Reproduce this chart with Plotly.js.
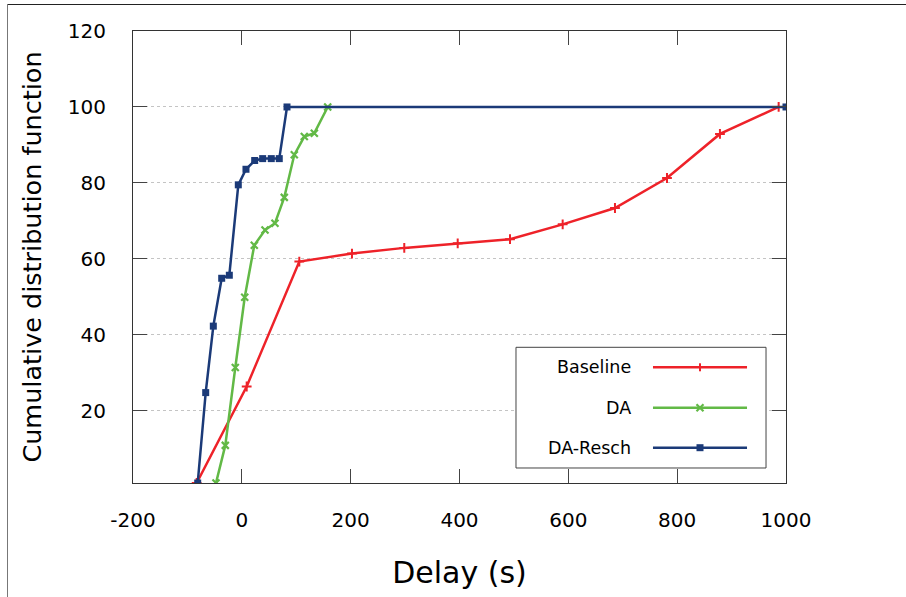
<!DOCTYPE html>
<html>
<head>
<meta charset="utf-8">
<script src="https://cdn.plot.ly/plotly-3.0.1.min.js"></script>
<style>
  html, body { margin: 0; padding: 0; background: #fff; }
  #wrap { position: relative; width: 906px; height: 597px; overflow: hidden; }
  #chart { position: absolute; left: 0; top: 0; width: 906px; height: 597px; }
  #frameTop { position: absolute; left: 7px; top: 4px; width: 899px; height: 1px; background: #222; }
  #frameLeft { position: absolute; left: 7px; top: 4px; width: 1px; height: 593px; background: #777; }
</style>
</head>
<body>
<div id="wrap">
  <div id="chart"></div>
  <div id="frameTop"></div>
  <div id="frameLeft"></div>
</div>
<script>
// ---- Data ----
const baselineX = [-83, 8.9, 105.6, 202.4, 298.5, 396.7, 492.8, 589.6, 685.7, 781.3, 878.6, 986.5];
const baselineY = [1, 26.4, 59.3, 61.4, 62.9, 64.1, 65.2, 69.1, 73.4, 81.3, 92.9, 100];

const daX = [-47.5, -30.4, -12, 5.3, 22.9, 42.6, 60.9, 78, 96.4, 114.8, 133.2, 157.8];
const daY = [1, 10.9, 31.4, 49.9, 63.6, 67.6, 69.4, 76.2, 87.4, 92.2, 93.1, 100];

const reschX = [-81.1, -66.4, -52.4, -37, -23, -6.5, 7.6, 23.6, 38.3, 54.1, 68.8, 83, 1000];
const reschY = [1, 24.8, 42.3, 54.9, 55.7, 79.5, 83.6, 85.9, 86.4, 86.4, 86.4, 100, 100];

const seriesNames = ["Baseline", "DA", "DA-Resch"];
const xTickVals = [-200, 0, 200, 400, 600, 800, 1000];
const yTickVals = [20, 40, 60, 80, 100, 120];

// ---- Styles ----
const RED = "#ee2229", GREEN = "#62b946", BLUE = "#1b3a78";
const FONT = "DejaVu Sans, sans-serif";

const traces = [
  { x: baselineX, y: baselineY, name: seriesNames[0], mode: "lines+markers",
    line: { color: RED, width: 2.5 },
    marker: { symbol: "cross-thin-open", size: 7, color: RED, line: { color: RED, width: 2 } } },
  { x: daX, y: daY, name: seriesNames[1], mode: "lines+markers",
    line: { color: GREEN, width: 2.5 },
    marker: { symbol: "x-thin-open", size: 7, color: GREEN, line: { color: GREEN, width: 2.2 } } },
  { x: reschX, y: reschY, name: seriesNames[2], mode: "lines+markers",
    line: { color: BLUE, width: 2.5 },
    marker: { symbol: "square", size: 7, color: BLUE, line: { width: 0 } } }
];

// ---- Custom gnuplot-style legend (paper coords) ----
const legRows = [0.256, 0.1666, 0.0781];
const legColors = [RED, GREEN, BLUE];
const shapes = [
  { type: "rect", xref: "paper", yref: "paper", x0: 0.5865, x1: 0.9694, y0: 0.0332, y1: 0.3002,
    line: { color: "#444", width: 1 }, fillcolor: "rgba(255,255,255,1)", layer: "above" }
];
const annotations = [];
seriesNames.forEach((n, i) => {
  shapes.push({ type: "line", xref: "paper", yref: "paper", x0: 0.7963, x1: 0.9403,
    y0: legRows[i], y1: legRows[i], line: { color: legColors[i], width: 2.5 }, layer: "above" });
  annotations.push({ xref: "paper", yref: "paper", x: 0.7657, y: legRows[i], xanchor: "right",
    yanchor: "middle", text: n, showarrow: false, font: { family: FONT, size: 17.5, color: "#000" } });
});
// legend sample markers
const mx = 0.8683, px = 1 / 653, py = 1 / 452;
shapes.push({ type: "line", xref: "paper", yref: "paper", x0: mx, x1: mx,
  y0: legRows[0] - 4 * py, y1: legRows[0] + 4 * py, line: { color: RED, width: 2 }, layer: "above" });
shapes.push({ type: "line", xref: "paper", yref: "paper", x0: mx - 3.5 * px, x1: mx + 3.5 * px,
  y0: legRows[1] - 3.5 * py, y1: legRows[1] + 3.5 * py, line: { color: GREEN, width: 2.2 }, layer: "above" });
shapes.push({ type: "line", xref: "paper", yref: "paper", x0: mx - 3.5 * px, x1: mx + 3.5 * px,
  y0: legRows[1] + 3.5 * py, y1: legRows[1] - 3.5 * py, line: { color: GREEN, width: 2.2 }, layer: "above" });
shapes.push({ type: "rect", xref: "paper", yref: "paper", x0: mx - 3.5 * px, x1: mx + 3.5 * px,
  y0: legRows[2] - 3.5 * py, y1: legRows[2] + 3.5 * py, line: { width: 0 }, fillcolor: BLUE, layer: "above" });

const axisCommon = {
  showline: true, linecolor: "#333", linewidth: 1, mirror: "ticks",
  ticks: "inside", ticklen: 14, tickwidth: 1, tickcolor: "#444",
  zeroline: false, automargin: false,
  tickfont: { family: FONT, size: 20, color: "#000" }
};

const layout = {
  width: 906, height: 597,
  margin: { l: 133, r: 120, t: 31, b: 114 },
  paper_bgcolor: "#fff", plot_bgcolor: "#fff",
  showlegend: false,
  xaxis: Object.assign({}, axisCommon, {
    range: [-200, 1000], tickvals: xTickVals, ticktext: xTickVals.map(String),
    showgrid: false, ticklabelstandoff: 19,
    title: { text: "Delay (s)", font: { family: FONT, size: 30, color: "#000" }, standoff: 30 }
  }),
  yaxis: Object.assign({}, axisCommon, {
    range: [1, 120], tickvals: yTickVals, ticktext: yTickVals.map(String),
    showgrid: true, gridcolor: "#c4c4c4", griddash: "dot", gridwidth: 1, ticklabelstandoff: 22,
    title: { text: "Cumulative distribution function", font: { family: FONT, size: 25.5, color: "#000" }, standoff: 18 }
  }),
  shapes: shapes,
  annotations: annotations
};

Plotly.newPlot("chart", traces, layout, { displayModeBar: false, staticPlot: true });
</script>
</body>
</html>
